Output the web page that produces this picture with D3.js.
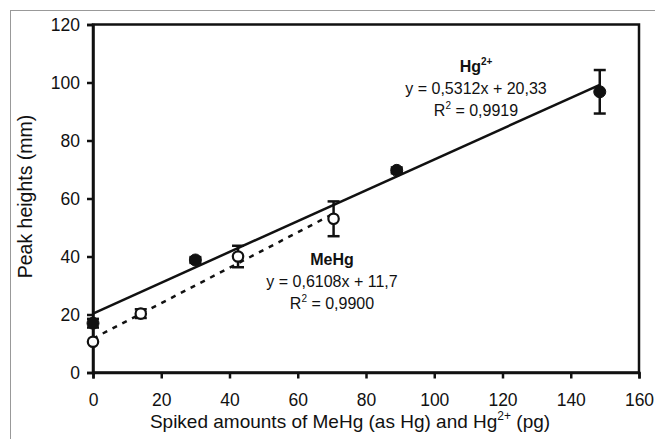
<!DOCTYPE html>
<html>
<head>
<meta charset="utf-8">
<script src="https://cdn.jsdelivr.net/npm/d3@7"></script>
<style>
  body { margin: 0; background: #fff; }
  text { font-family: "Liberation Sans", Arial, sans-serif; fill: #111; }
</style>
</head>
<body>
<svg id="chart"></svg>
<script>
// Hg2+ measurements
const hgX = [0, 30, 89, 148.5]
const hgY = [17, 38.8, 69.7, 96.8]
const hgErr = [1.5, 1, 1, 7.5]

// MeHg measurements
const meX = [0, 14, 42.5, 70.5]
const meY = [10.6, 20.3, 40, 53]
const meErr = [0, 1.5, 3.7, 6]

// fitted lines (slope, intercept, last x)
const hgFit = [0.5312, 20.33, 148.5]
const meFit = [0.6108, 11.7, 70.5]

const xTicks = [0, 20, 40, 60, 80, 100, 120, 140, 160]
const yTicks = [0, 20, 40, 60, 80, 100, 120]

const width = 655
const height = 439
const margin = { top: 24.5, right: 16, bottom: 66.5, left: 93 }

const svg = d3.select("#chart")
  .attr("width", width)
  .attr("height", height)

// outer frame (only left and top are visible)
svg.append("rect")
  .attr("x", 10.5).attr("y", 10.5)
  .attr("width", 700).attr("height", 500)
  .attr("fill", "none")
  .attr("stroke", "#999")
  .attr("stroke-width", 1)

const x = d3.scaleLinear().domain([0, 160]).range([margin.left, width - margin.right])
const y = d3.scaleLinear().domain([0, 120]).range([height - margin.bottom, margin.top])

const g = svg.append("g")

// plot box
g.append("rect")
  .attr("x", x(0)).attr("y", y(120))
  .attr("width", x(160) - x(0)).attr("height", y(0) - y(120))
  .attr("fill", "none")
  .attr("stroke", "#111")
  .attr("stroke-width", 2.5)

const xAxis = g.append("g")
  .attr("transform", `translate(0,${y(0)})`)
  .call(d3.axisBottom(x).tickValues(xTicks).tickSize(6).tickPadding(15))
const yAxis = g.append("g")
  .attr("transform", `translate(${x(0)},0)`)
  .call(d3.axisLeft(y).tickValues(yTicks).tickSize(6).tickPadding(7))

for (const ax of [xAxis, yAxis]) {
  ax.select(".domain").attr("stroke", "#111").attr("stroke-width", 2.5)
  ax.selectAll(".tick line").attr("stroke", "#111").attr("stroke-width", 2.5)
  ax.selectAll(".tick text")
    .attr("font-size", 17.5)
    .attr("font-family", "Liberation Sans, Arial, sans-serif")
    .attr("fill", "#111")
}

// axis titles
const xTitle = svg.append("text")
  .attr("x", (x(0) + x(160)) / 2 - 16)
  .attr("y", 428)
  .attr("text-anchor", "middle")
  .attr("font-size", 19)
xTitle.append("tspan").text("Spiked amounts of MeHg (as Hg) and Hg")
xTitle.append("tspan").attr("font-size", 12).attr("dy", -8).text("2+")
xTitle.append("tspan").attr("dy", 8).text(" (pg)")

svg.append("text")
  .attr("transform", `translate(32,${(y(0) + y(120)) / 2 - 2}) rotate(-90)`)
  .attr("text-anchor", "middle")
  .attr("font-size", 19.5)
  .text("Peak heights (mm)")

// regression lines
const line = d3.line().x(d => x(d[0])).y(d => y(d[1]))
const fitPoints = f => [[0, f[1]], [f[2], f[0] * f[2] + f[1]]]

g.append("path")
  .attr("d", line(fitPoints(hgFit)))
  .attr("stroke", "#111").attr("stroke-width", 2.5).attr("fill", "none")
g.append("path")
  .attr("d", line(fitPoints(meFit)))
  .attr("stroke", "#111").attr("stroke-width", 2.5).attr("fill", "none")
  .attr("stroke-dasharray", "5,6")

// error bars + markers
function drawSeries(xs, ys, errs, filled) {
  const data = xs.map((v, i) => ({ x: v, y: ys[i], e: errs[i] }))
  const eb = g.append("g").selectAll("g").data(data.filter(d => d.e > 0)).enter().append("g")
    .attr("stroke", "#111").attr("stroke-width", 2.5)
  eb.append("line")
    .attr("x1", d => x(d.x)).attr("x2", d => x(d.x))
    .attr("y1", d => y(d.y - d.e)).attr("y2", d => y(d.y + d.e))
  eb.append("line")
    .attr("x1", d => x(d.x) - 6).attr("x2", d => x(d.x) + 6)
    .attr("y1", d => y(d.y + d.e)).attr("y2", d => y(d.y + d.e))
  eb.append("line")
    .attr("x1", d => x(d.x) - 6).attr("x2", d => x(d.x) + 6)
    .attr("y1", d => y(d.y - d.e)).attr("y2", d => y(d.y - d.e))

  g.append("g").selectAll("circle").data(data).enter().append("circle")
    .attr("cx", d => x(d.x)).attr("cy", d => y(d.y))
    .attr("r", filled ? 6 : 5.2)
    .attr("fill", filled ? "#111" : "#fff")
    .attr("stroke", "#111")
    .attr("stroke-width", filled ? 1 : 2.2)
}
drawSeries(meX, meY, meErr, false)
drawSeries(hgX, hgY, hgErr, true)

// annotations
function label(cx, by, name, sup, eq, r2) {
  const t1 = svg.append("text").attr("x", cx).attr("y", by)
    .attr("text-anchor", "middle").attr("font-size", 16).attr("font-weight", "bold")
  t1.append("tspan").text(name)
  if (sup) t1.append("tspan").attr("font-size", 10).attr("dy", -7).text(sup)
  svg.append("text").attr("x", cx).attr("y", by + 22)
    .attr("text-anchor", "middle").attr("font-size", 16).text(eq)
  const t3 = svg.append("text").attr("x", cx).attr("y", by + 44)
    .attr("text-anchor", "middle").attr("font-size", 16)
  t3.append("tspan").text("R")
  t3.append("tspan").attr("font-size", 10).attr("dy", -7).text("2")
  t3.append("tspan").attr("dy", 7).text(" = " + r2)
}
label(476, 72, "Hg", "2+", "y = 0,5312x + 20,33", "0,9919")
label(332, 265, "MeHg", null, "y = 0,6108x + 11,7", "0,9900")
</script>
</body>
</html>
